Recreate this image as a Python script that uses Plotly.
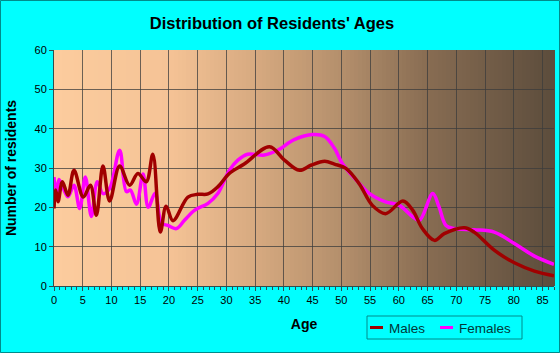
import plotly.graph_objects as go

# ---- data ----
male_age = [0, 0.3, 0.7, 1.46, 2.43, 3.48, 5.1, 6.33, 7.37, 8.52,
            9.68, 11.42, 13.16, 14.6, 16.06, 17.2, 18.5, 19.5, 20.7, 23.3,
            25.0, 26.8, 28.5, 30.5, 33.1, 37.5, 40.1, 42.7, 44.7, 47.1,
            48.8, 50.8, 53.1, 55.4, 57.7, 60.7, 62.4, 64.1, 66.2, 67.9,
            71.4, 73.1, 76.6, 80.1, 83.6, 87]
male_val = [19.7, 24.4, 21.4, 26.5, 23.1, 29.4, 22.6, 25.6, 18.0, 30.5,
            21.6, 30.5, 25.6, 28.6, 26.5, 33.5, 13.7, 20.3, 16.6, 22.6,
            23.3, 23.4, 25.2, 28.6, 31.0, 35.4, 32.0, 29.4, 30.7, 31.7,
            31.0, 29.9, 26.0, 20.5, 18.4, 21.6, 19.3, 14.6, 11.6, 13.3,
            14.8, 13.7, 9.1, 5.9, 3.8, 2.6]

female_age = [0, 0.4, 0.87, 1.86, 2.43, 3.48, 4.47, 5.45, 6.5, 7.54,
              8.52, 9.68, 11.42, 12.6, 13.3, 14.35, 15.5, 16.4, 17.6, 18.7,
              19.8, 21.3, 22.7, 24.5, 26.8, 28.5, 30.5, 32.0, 33.7, 36.6,
              38.9, 41.8, 45.0, 47.1, 48.8, 50.2, 52.6, 54.9, 57.7, 60.1,
              62.4, 63.6, 65.9, 67.0, 68.2, 69.6, 73.1, 76.6, 80.1, 83.6,
              87]
female_val = [27.7, 23.1, 27.1, 24.0, 22.7, 25.6, 19.7, 27.7, 17.7, 26.5,
              23.5, 24.8, 34.5, 24.0, 24.4, 20.8, 28.5, 20.0, 23.6, 16.0,
              15.4, 14.6, 16.7, 19.3, 21.0, 23.5, 29.4, 32.0, 33.5, 33.3,
              34.5, 37.2, 38.5, 38.0, 35.0, 31.1, 26.9, 23.5, 21.4, 20.5,
              17.6, 16.7, 23.5, 20.1, 15.4, 14.6, 14.3, 13.7, 10.8, 7.6,
              5.5]

x_ticks = [0, 5, 10, 15, 20, 25, 30, 35, 40, 45, 50, 55, 60, 65, 70, 75, 80, 85]
y_ticks = [0, 10, 20, 30, 40, 50, 60]

series_names = ["Males", "Females"]
series_colors = ["#A00000", "#FF00FF"]

# ---- layout geometry ----
W, H = 560, 353
ML, MR, MT, MB = 54, 6, 50, 67
PW, PH = W - ML - MR, H - MT - MB


def px_x(px):
    return (px - ML) / PW


def px_y(py):
    return (H - MB - py) / PH


# background gradient stops (position in plot fraction, rgb)
grad_stops = [(0.0, (252, 204, 158)), (0.23, (245, 195, 150)), (0.40, (215, 170, 128)),
              (0.575, (180, 143, 108)), (0.75, (135, 108, 82)), (1.0, (92, 76, 60))]


def grad_color(t):
    for (t0, c0), (t1, c1) in zip(grad_stops[:-1], grad_stops[1:]):
        if t <= t1:
            f = (t - t0) / (t1 - t0)
            return "rgb(%d,%d,%d)" % tuple(round(a + (b - a) * f) for a, b in zip(c0, c1))
    return "rgb(%d,%d,%d)" % grad_stops[-1][1]


shapes = []
N = 125
for i in range(N):
    t0, t1 = i / N, (i + 1) / N
    shapes.append(dict(type="rect", xref="paper", yref="paper", x0=t0, x1=t1 + 0.002,
                       y0=0, y1=1, fillcolor=grad_color((t0 + t1) / 2),
                       line=dict(width=0), layer="below"))
# page border
shapes.append(dict(type="rect", xref="paper", yref="paper",
                   x0=px_x(0.5), x1=px_x(W - 0.5), y0=px_y(H - 0.5), y1=px_y(0.5),
                   line=dict(color="#008B8B", width=1), fillcolor="rgba(0,0,0,0)", layer="above"))

# legend box (drawn by hand to match the compact reference legend)
LEG_X0, LEG_X1, LEG_Y0, LEG_Y1 = 367, 522, 316, 339
shapes.append(dict(type="rect", xref="paper", yref="paper",
                   x0=px_x(LEG_X0), x1=px_x(LEG_X1), y0=px_y(LEG_Y1), y1=px_y(LEG_Y0),
                   line=dict(color="#008B8B", width=1), fillcolor="rgba(0,0,0,0)", layer="above"))
annotations = []
leg_items = [(370, 387), (440, 457)]
ly = (LEG_Y0 + LEG_Y1) / 2
for (lx, tx), name, col in zip(leg_items, series_names, series_colors):
    shapes.append(dict(type="line", xref="paper", yref="paper",
                       x0=px_x(lx), x1=px_x(lx + 13), y0=px_y(ly), y1=px_y(ly),
                       line=dict(color=col, width=3), layer="above"))
    annotations.append(dict(text=name, xref="paper", yref="paper", x=px_x(tx), y=px_y(ly + 0.5),
                            xanchor="left", yanchor="middle", showarrow=False,
                            font=dict(size=13.5, color="#003838")))

fig = go.Figure()
fig.add_trace(go.Scatter(x=female_age, y=female_val, mode="lines", name=series_names[1],
                         line=dict(color=series_colors[1], width=3.5, shape="spline", smoothing=1.0)))
fig.add_trace(go.Scatter(x=male_age, y=male_val, mode="lines", name=series_names[0],
                         line=dict(color=series_colors[0], width=3.5, shape="spline", smoothing=1.0)))

fig.update_layout(
    width=W, height=H,
    margin=dict(l=ML, r=MR, t=MT, b=MB),
    paper_bgcolor="#00FFFF",
    plot_bgcolor="rgba(0,0,0,0)",
    shapes=shapes,
    annotations=annotations,
    showlegend=False,
    font=dict(family="Liberation Sans, Arial, sans-serif", color="#000000"),
    title=dict(text="<b>Distribution of Residents' Ages</b>", x=272 / W,
               xanchor="center", y=1 - 23 / H, yanchor="middle",
               font=dict(size=16.5, color="#000000")),
    xaxis=dict(range=[0, 87], tickvals=x_ticks, ticktext=[str(v) for v in x_ticks],
               ticks="outside", ticklen=4, tickcolor="#2F4F4F", tickwidth=1,
               showline=True, linecolor="#2F4F4F", linewidth=1,
               showgrid=True, gridcolor="rgba(60,60,60,0.75)", gridwidth=1,
               zeroline=False, tickfont=dict(size=11, color="#000000"),
               minor=dict(dtick=1, ticks="outside", ticklen=3, tickcolor="#2F4F4F", showgrid=False),
               title=dict(text="<b>Age</b>", font=dict(size=14), standoff=13)),
    yaxis=dict(range=[0, 60], tickvals=y_ticks, ticktext=[str(v) for v in y_ticks],
               ticks="outside", ticklen=4, tickcolor="#2F4F4F", tickwidth=1,
               showline=True, linecolor="#2F4F4F", linewidth=1,
               showgrid=True, gridcolor="rgba(60,60,60,0.75)", gridwidth=1,
               zeroline=False, tickfont=dict(size=11, color="#000000"),
               title=dict(text="<b>Number of residents</b>", font=dict(size=14), standoff=14)),
)

fig.write_html("out.html")
